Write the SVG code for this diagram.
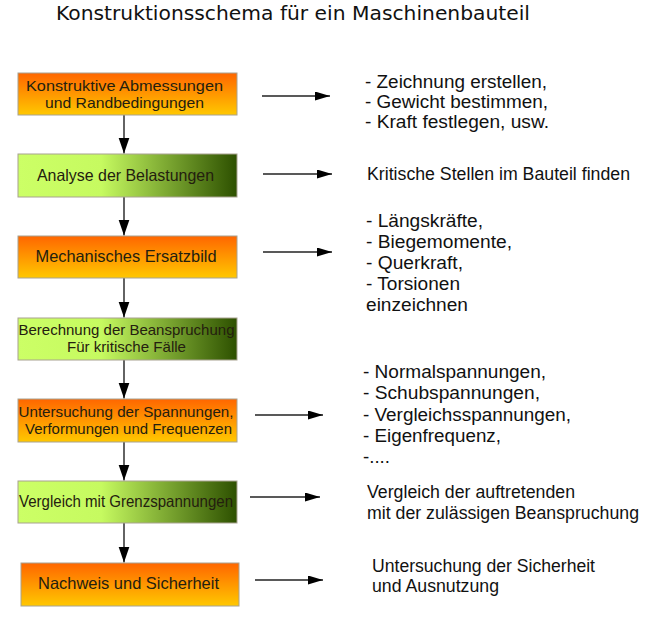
<svg xmlns="http://www.w3.org/2000/svg" width="659" height="619" viewBox="0 0 659 619">
  <style>
    .box { stroke: #a8a290; stroke-width: 1; }
    .orange { fill: url(#gOrange); }
    .green { fill: url(#gGreen); }
    .bt { font-family: "Liberation Sans", Arial, sans-serif; font-size: 16.5px; fill: #24200f; text-anchor: middle; }
    .bt2 { font-family: "Liberation Sans", Arial, sans-serif; font-size: 15px; fill: #24200f; text-anchor: middle; }
    .rt { font-family: "Liberation Sans", Arial, sans-serif; font-size: 17.5px; fill: #111; }
    .title { font-family: "DejaVu Sans", "Liberation Sans", sans-serif; font-size: 19px; fill: #111; }
    .vc { stroke: #222; stroke-width: 1.4; fill: none; marker-end: url(#headV); }
    .hc { stroke: #222; stroke-width: 1.3; fill: none; marker-end: url(#headH); }
  </style>
  <defs>
    <linearGradient id="gOrange" x1="0" y1="0" x2="0" y2="1">
      <stop offset="0" stop-color="#ff6600"/>
      <stop offset="1" stop-color="#ffc800"/>
    </linearGradient>
    <linearGradient id="gGreen" x1="0" y1="0" x2="1" y2="0">
      <stop offset="0" stop-color="#ccff66"/>
      <stop offset="0.38" stop-color="#c6fa60"/>
      <stop offset="1" stop-color="#2d5000"/>
    </linearGradient>
    <marker id="headV" markerUnits="userSpaceOnUse" markerWidth="17" markerHeight="12" refX="16" refY="5.5" orient="auto">
      <path d="M0,0 L16,5.5 L0,11 Z" fill="#000"/>
    </marker>
    <marker id="headH" markerUnits="userSpaceOnUse" markerWidth="16" markerHeight="10" refX="15" refY="4.5" orient="auto">
      <path d="M0,0 L15,4.5 L0,9 Z" fill="#000"/>
    </marker>
  </defs>
  <rect width="659" height="619" fill="#fff"/>

  <text class="title" x="56" y="20" textLength="474" lengthAdjust="spacingAndGlyphs">Konstruktionsschema für ein Maschinenbauteil</text>

  <g id="connectors">
    <line class="vc" x1="124" y1="115" x2="124" y2="153.5"/>
    <line class="vc" x1="124" y1="197" x2="124" y2="235.5"/>
    <line class="vc" x1="124" y1="278" x2="124" y2="317.5"/>
    <line class="vc" x1="124" y1="360" x2="124" y2="398.5"/>
    <line class="vc" x1="124" y1="442" x2="124" y2="480.5"/>
    <line class="vc" x1="124" y1="523" x2="124" y2="562.5"/>
    <line class="hc" x1="262" y1="96" x2="330" y2="96"/>
    <line class="hc" x1="263" y1="174" x2="332" y2="174"/>
    <line class="hc" x1="263" y1="252" x2="332" y2="252"/>
    <line class="hc" x1="255" y1="415" x2="323" y2="415"/>
    <line class="hc" x1="250" y1="497" x2="320" y2="497"/>
    <line class="hc" x1="255" y1="580" x2="323" y2="580"/>
  </g>

  <g id="n1">
    <rect class="box orange" x="18" y="73" width="219" height="42"/>
    <text class="bt2" x="124.5" y="91" textLength="197" lengthAdjust="spacingAndGlyphs">Konstruktive Abmessungen</text>
    <text class="bt2" x="124.5" y="107.5" textLength="159" lengthAdjust="spacingAndGlyphs">und Randbedingungen</text>
  </g>
  <g id="n2">
    <rect class="box green" x="18" y="154" width="219" height="43"/>
    <text class="bt" x="125.5" y="180.5" textLength="177" lengthAdjust="spacingAndGlyphs">Analyse der Belastungen</text>
  </g>
  <g id="n3">
    <rect class="box orange" x="18" y="236" width="219" height="42"/>
    <text class="bt" x="126" y="262" textLength="181" lengthAdjust="spacingAndGlyphs">Mechanisches Ersatzbild</text>
  </g>
  <g id="n4">
    <rect class="box green" x="18" y="318" width="219" height="42"/>
    <text class="bt2" x="126.5" y="335" textLength="216" lengthAdjust="spacingAndGlyphs">Berechnung der Beanspruchung</text>
    <text class="bt2" x="126.5" y="351.5" textLength="119" lengthAdjust="spacingAndGlyphs">Für kritische Fälle</text>
  </g>
  <g id="n5">
    <rect class="box orange" x="18" y="399" width="219" height="43"/>
    <text class="bt2" x="126" y="417" textLength="215" lengthAdjust="spacingAndGlyphs">Untersuchung der Spannungen,</text>
    <text class="bt2" x="128.5" y="434" textLength="207" lengthAdjust="spacingAndGlyphs">Verformungen und Frequenzen</text>
  </g>
  <g id="n6">
    <rect class="box green" x="18" y="481" width="219" height="42"/>
    <text class="bt" x="126" y="507" textLength="214" lengthAdjust="spacingAndGlyphs">Vergleich mit Grenzspannungen</text>
  </g>
  <g id="n7">
    <rect class="box orange" x="21" y="563" width="218" height="43"/>
    <text class="bt" x="128.5" y="588.5" textLength="181" lengthAdjust="spacingAndGlyphs">Nachweis und Sicherheit</text>
  </g>

  <g id="note1">
    <text class="rt" x="365" y="88" textLength="182" lengthAdjust="spacingAndGlyphs">- Zeichnung erstellen,</text>
    <text class="rt" x="365" y="108" textLength="183" lengthAdjust="spacingAndGlyphs">- Gewicht bestimmen,</text>
    <text class="rt" x="365" y="128" textLength="184" lengthAdjust="spacingAndGlyphs">- Kraft festlegen, usw.</text>
  </g>
  <g id="note2">
    <text class="rt" x="367" y="180" textLength="263" lengthAdjust="spacingAndGlyphs">Kritische Stellen im Bauteil finden</text>
  </g>
  <g id="note3">
    <text class="rt" x="366" y="227" textLength="117" lengthAdjust="spacingAndGlyphs">- Längskräfte,</text>
    <text class="rt" x="366" y="248" textLength="146" lengthAdjust="spacingAndGlyphs">- Biegemomente,</text>
    <text class="rt" x="366" y="269" textLength="97" lengthAdjust="spacingAndGlyphs">- Querkraft,</text>
    <text class="rt" x="366" y="290" textLength="94" lengthAdjust="spacingAndGlyphs">- Torsionen</text>
    <text class="rt" x="366" y="311" textLength="102" lengthAdjust="spacingAndGlyphs">einzeichnen</text>
  </g>
  <g id="note4">
    <text class="rt" x="363" y="378" textLength="183" lengthAdjust="spacingAndGlyphs">- Normalspannungen,</text>
    <text class="rt" x="363" y="399" textLength="177" lengthAdjust="spacingAndGlyphs">- Schubspannungen,</text>
    <text class="rt" x="363" y="421" textLength="208" lengthAdjust="spacingAndGlyphs">- Vergleichsspannungen,</text>
    <text class="rt" x="363" y="442" textLength="138" lengthAdjust="spacingAndGlyphs">- Eigenfrequenz,</text>
    <text class="rt" x="363" y="463" textLength="27" lengthAdjust="spacingAndGlyphs">-....</text>
  </g>
  <g id="note5">
    <text class="rt" x="367" y="498" textLength="208" lengthAdjust="spacingAndGlyphs">Vergleich der auftretenden</text>
    <text class="rt" x="367" y="519" textLength="272" lengthAdjust="spacingAndGlyphs">mit der zulässigen Beanspruchung</text>
  </g>
  <g id="note6">
    <text class="rt" x="372" y="572" textLength="223" lengthAdjust="spacingAndGlyphs">Untersuchung der Sicherheit</text>
    <text class="rt" x="372" y="592" textLength="127" lengthAdjust="spacingAndGlyphs">und Ausnutzung</text>
  </g>
</svg>
